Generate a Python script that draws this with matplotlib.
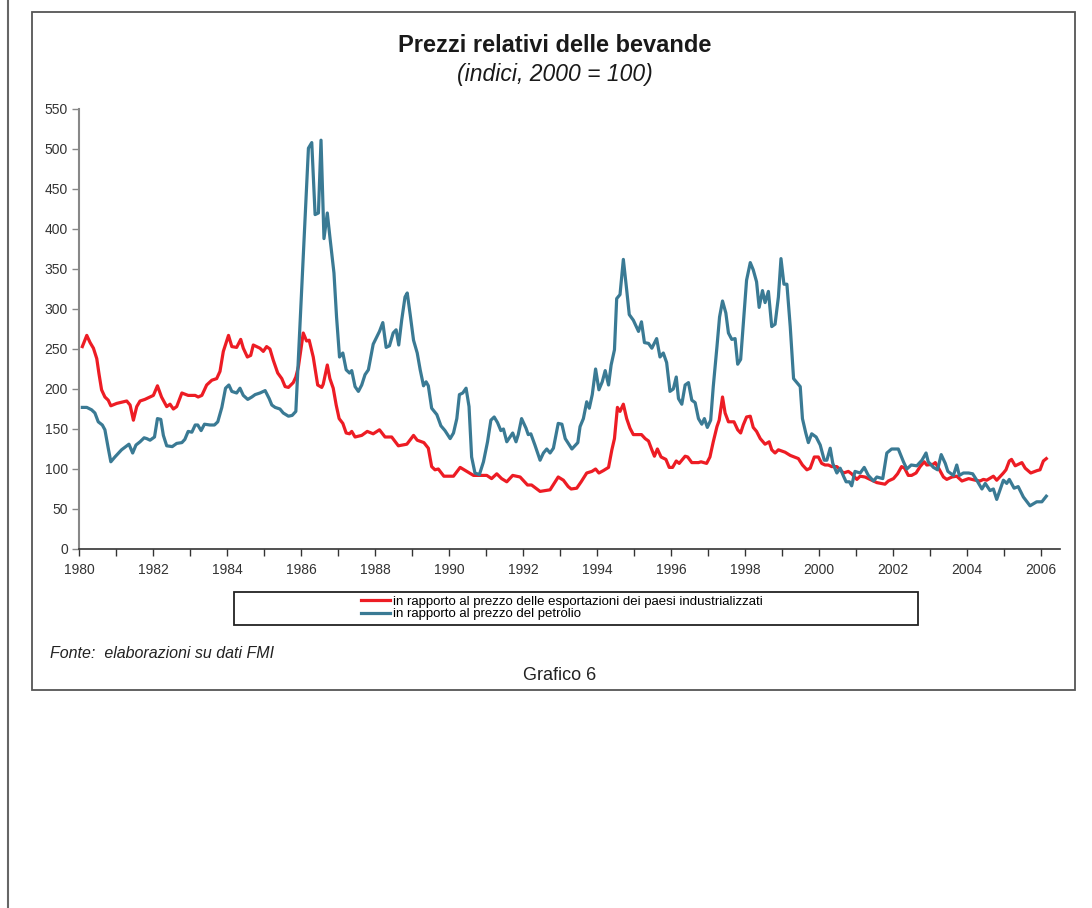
import matplotlib
matplotlib.use("Agg")
import matplotlib.pyplot as plt
from matplotlib.patches import Rectangle
from matplotlib.lines import Line2D

plt.rcParams["font.family"] = ["Liberation Sans", "DejaVu Sans"]

# monthly-ish readings (decimal year, index value)
exp_years = [1980.09, 1980.21, 1980.30, 1980.39, 1980.48, 1980.54, 1980.61, 1980.70, 1980.79, 1980.86,
             1981.02, 1981.29, 1981.38, 1981.47, 1981.56, 1981.65, 1981.78, 1981.92, 1982.01, 1982.12,
             1982.23, 1982.37, 1982.46, 1982.55, 1982.64, 1982.78, 1982.95, 1983.14, 1983.22, 1983.32,
             1983.45, 1983.59, 1983.72, 1983.81, 1983.90, 1984.04, 1984.13, 1984.26, 1984.37, 1984.44,
             1984.55, 1984.64, 1984.71, 1984.89, 1984.98, 1985.07, 1985.16, 1985.25, 1985.37, 1985.48,
             1985.57, 1985.66, 1985.79, 1985.86, 1985.93, 1986.06, 1986.15, 1986.22, 1986.33, 1986.45,
             1986.56, 1986.60, 1986.71, 1986.78, 1986.87, 1986.95, 1987.03, 1987.13, 1987.22, 1987.31,
             1987.37, 1987.46, 1987.64, 1987.79, 1987.95, 1988.12, 1988.27, 1988.45, 1988.63, 1988.86,
             1989.04, 1989.14, 1989.32, 1989.44, 1989.53, 1989.62, 1989.71, 1989.86, 1990.12, 1990.30,
             1990.48, 1990.66, 1991.02, 1991.15, 1991.29, 1991.42, 1991.56, 1991.72, 1991.92, 1992.12,
             1992.23, 1992.46, 1992.73, 1992.95, 1993.09, 1993.22, 1993.30, 1993.45, 1993.57, 1993.72,
             1993.86, 1993.96, 1994.05, 1994.17, 1994.31, 1994.40, 1994.47, 1994.55, 1994.62, 1994.71,
             1994.80, 1994.89, 1994.98, 1995.20, 1995.30, 1995.39, 1995.48, 1995.55, 1995.63, 1995.73,
             1995.86, 1995.95, 1996.04, 1996.14, 1996.22, 1996.38, 1996.45, 1996.56, 1996.65, 1996.74,
             1996.81, 1996.96, 1997.05, 1997.14, 1997.24, 1997.30, 1997.39, 1997.46, 1997.55, 1997.70,
             1997.80, 1997.88, 1997.95, 1998.04, 1998.14, 1998.22, 1998.31, 1998.41, 1998.54, 1998.65,
             1998.72, 1998.81, 1998.90, 1999.08, 1999.22, 1999.44, 1999.55, 1999.67, 1999.76, 1999.87,
             1999.98, 2000.07, 2000.16, 2000.25, 2000.34, 2000.48, 2000.66, 2000.79, 2000.88, 2001.02,
             2001.11, 2001.24, 2001.42, 2001.56, 2001.78, 2001.87, 2002.01, 2002.12, 2002.23, 2002.31,
             2002.41, 2002.50, 2002.62, 2002.73, 2002.84, 2002.91, 2003.09, 2003.14, 2003.23, 2003.36,
             2003.45, 2003.59, 2003.72, 2003.86, 2004.04, 2004.22, 2004.35, 2004.44, 2004.53, 2004.71,
             2004.80, 2004.98, 2005.05, 2005.14, 2005.20, 2005.30, 2005.48, 2005.57, 2005.72, 2005.89,
             2005.97, 2006.06, 2006.14]
exp_vals = [253, 267, 258, 251, 238, 219, 199, 190, 186, 179,
            182, 185, 180, 161, 178, 185, 187, 190, 192, 204,
            190, 178, 181, 175, 178, 195, 192, 192, 190, 192,
            205, 211, 213, 222, 247, 267, 253, 252, 262, 251,
            240, 242, 255, 251, 247, 253, 250, 236, 220, 213,
            203, 202, 208, 215, 228, 270, 260, 261, 240, 205,
            202, 206, 230, 213, 201, 180, 163, 157, 145, 144,
            147, 140, 142, 147, 144, 149, 140, 140, 129, 131,
            142, 136, 133, 126, 103, 99, 100, 91, 91, 102,
            97, 92, 92, 88, 94, 88, 84, 92, 90, 80,
            80, 72, 74, 90, 86, 78, 75, 76, 84, 95,
            97, 100, 95, 98, 102, 124, 138, 177, 172, 181,
            163, 151, 143, 143, 138, 135, 124, 116, 125, 115,
            112, 102, 102, 110, 107, 116, 115, 108, 108, 108,
            109, 107, 115, 134, 153, 161, 190, 170, 159, 159,
            149, 145, 155, 165, 166, 152, 147, 138, 131, 134,
            124, 120, 124, 121, 117, 113, 105, 99, 101, 115,
            115, 107, 105, 105, 103, 103, 95, 97, 94, 87,
            91, 90, 86, 83, 81, 85, 88, 94, 103, 101,
            92, 92, 95, 103, 109, 105, 106, 108, 101, 90,
            87, 90, 91, 85, 88, 86, 85, 87, 86, 91,
            86, 95, 99, 110, 112, 104, 108, 101, 95, 98,
            99, 110, 113]

oil_years = [1980.09, 1980.21, 1980.34, 1980.43, 1980.52, 1980.63, 1980.70, 1980.79, 1980.86, 1980.97,
             1981.15, 1981.35, 1981.45, 1981.54, 1981.65, 1981.76, 1981.83, 1981.92, 1982.04, 1982.12,
             1982.21, 1982.28, 1982.37, 1982.52, 1982.64, 1982.78, 1982.86, 1982.95, 1983.05, 1983.14,
             1983.21, 1983.30, 1983.39, 1983.54, 1983.66, 1983.75, 1983.86, 1983.96, 1984.05, 1984.13,
             1984.26, 1984.35, 1984.44, 1984.56, 1984.67, 1984.76, 1984.89, 1985.03, 1985.14, 1985.21,
             1985.30, 1985.43, 1985.52, 1985.66, 1985.76, 1985.86, 1986.20, 1986.29, 1986.38, 1986.47,
             1986.54, 1986.62, 1986.71, 1986.78, 1986.89, 1986.96, 1987.04, 1987.13, 1987.22, 1987.31,
             1987.37, 1987.46, 1987.55, 1987.64, 1987.73, 1987.82, 1987.95, 1988.12, 1988.21, 1988.30,
             1988.39, 1988.49, 1988.57, 1988.64, 1988.72, 1988.81, 1988.87, 1988.95, 1989.04, 1989.14,
             1989.22, 1989.31, 1989.38, 1989.44, 1989.53, 1989.67, 1989.78, 1989.89, 1990.03, 1990.12,
             1990.21, 1990.28, 1990.37, 1990.46, 1990.54, 1990.61, 1990.70, 1990.82, 1990.93, 1991.04,
             1991.13, 1991.22, 1991.31, 1991.40, 1991.47, 1991.56, 1991.72, 1991.81, 1991.87, 1991.96,
             1992.08, 1992.14, 1992.21, 1992.32, 1992.46, 1992.55, 1992.64, 1992.73, 1992.82, 1992.95,
             1993.05, 1993.14, 1993.32, 1993.48, 1993.54, 1993.63, 1993.72, 1993.79, 1993.87, 1993.96,
             1994.05, 1994.14, 1994.22, 1994.31, 1994.38, 1994.47, 1994.53, 1994.62, 1994.71, 1994.80,
             1994.87, 1994.98, 1995.12, 1995.20, 1995.28, 1995.39, 1995.48, 1995.61, 1995.70, 1995.79,
             1995.88, 1995.97, 1996.06, 1996.14, 1996.20, 1996.29, 1996.38, 1996.47, 1996.56, 1996.65,
             1996.74, 1996.83, 1996.90, 1996.98, 1997.07, 1997.14, 1997.24, 1997.31, 1997.39, 1997.48,
             1997.55, 1997.64, 1997.73, 1997.80, 1997.88, 1998.04, 1998.14, 1998.22, 1998.31, 1998.38,
             1998.47, 1998.54, 1998.63, 1998.72, 1998.81, 1998.90, 1998.97, 1999.05, 1999.13, 1999.22,
             1999.31, 1999.49, 1999.55, 1999.64, 1999.71, 1999.80, 1999.92, 2000.03, 2000.14, 2000.21,
             2000.30, 2000.37, 2000.48, 2000.57, 2000.66, 2000.73, 2000.82, 2000.88, 2000.97, 2001.11,
             2001.22, 2001.33, 2001.47, 2001.56, 2001.72, 2001.83, 2001.96, 2002.14, 2002.28, 2002.37,
             2002.49, 2002.64, 2002.78, 2002.89, 2002.95, 2003.09, 2003.20, 2003.30, 2003.41, 2003.48,
             2003.63, 2003.72, 2003.79, 2003.90, 2004.04, 2004.15, 2004.26, 2004.40, 2004.49, 2004.62,
             2004.71, 2004.80, 2004.89, 2004.98, 2005.07, 2005.14, 2005.27, 2005.38, 2005.52, 2005.70,
             2005.88, 2006.02, 2006.14]
oil_vals = [177, 177, 174, 170, 159, 155, 149, 126, 109, 115,
            124, 131, 120, 130, 134, 139, 138, 136, 140, 163,
            162, 142, 129, 128, 132, 133, 137, 147, 146, 155,
            155, 148, 156, 155, 155, 159, 177, 201, 205, 197,
            195, 201, 192, 187, 190, 193, 195, 198, 188, 180,
            177, 175, 170, 166, 167, 172, 501, 508, 418, 420,
            511, 388, 420, 390, 345, 290, 240, 245, 224, 220,
            223, 203, 197, 205, 218, 224, 256, 272, 283, 252,
            254, 270, 274, 255, 286, 315, 320, 293, 261, 245,
            224, 204, 209, 204, 176, 168, 154, 148, 138, 145,
            163, 193, 195, 201, 178, 115, 95, 93, 109, 134,
            161, 165, 158, 148, 150, 134, 145, 134, 143, 163,
            151, 143, 144, 130, 111, 120, 125, 120, 126, 157,
            156, 138, 125, 133, 153, 163, 184, 176, 193, 225,
            199, 209, 223, 205, 230, 249, 313, 318, 362, 324,
            293, 286, 272, 284, 258, 257, 251, 263, 240, 245,
            233, 197, 200, 215, 188, 181, 205, 208, 186, 183,
            163, 156, 163, 152, 161, 203, 253, 290, 310, 295,
            270, 262, 263, 231, 237, 336, 358, 349, 334, 302,
            323, 308, 322, 278, 281, 315, 363, 331, 331, 278,
            213, 203, 163, 145, 133, 144, 140, 130, 111, 111,
            126, 107, 95, 101, 91, 84, 84, 79, 97, 95,
            102, 92, 85, 90, 88, 120, 125, 125, 109, 100,
            105, 104, 111, 120, 109, 102, 99, 118, 107, 97,
            92, 105, 92, 95, 95, 94, 86, 75, 82, 73,
            75, 62, 74, 86, 82, 87, 76, 78, 65, 54,
            59, 59, 66]

exp_label = "in rapporto al prezzo delle esportazioni dei paesi industrializzati"
oil_label = "in rapporto al prezzo del petrolio"
red = "#ED1C24"
blue = "#3A7A94"

W, H = 1092, 908
fig = plt.figure(figsize=(W / 100, H / 100), dpi=100)

def fx(px):
    return px / W

def fy(py):
    return 1 - py / H

# page edge and chart frame
fig.add_artist(Line2D([fx(8), fx(8)], [0, 1], color="#666666", lw=1.5))
fig.add_artist(Rectangle((fx(32), fy(690)), fx(1075) - fx(32), fy(12) - fy(690),
                         fill=False, edgecolor="#555555", lw=1.3))

ax = fig.add_axes([fx(79), fy(549), fx(1060) - fx(79), fy(109) - fy(549)])
ax.plot(exp_years, exp_vals, color=red, lw=2.3, label=exp_label, solid_joinstyle="round")
ax.plot(oil_years, oil_vals, color=blue, lw=2.3, label=oil_label, solid_joinstyle="round")

ax.set_xlim(1980, 2006.51)
ax.set_ylim(0, 550)
ax.set_yticks(range(0, 551, 50))
ax.set_xticks(range(1980, 2007))
ax.set_xticklabels([str(y) if y % 2 == 0 else "" for y in range(1980, 2007)])

for s in ["top", "right"]:
    ax.spines[s].set_visible(False)
ax.spines["left"].set_color("#888888")
ax.spines["left"].set_linewidth(1.5)
ax.spines["bottom"].set_color("#333333")
ax.spines["bottom"].set_linewidth(1.2)
ax.tick_params(axis="y", length=5, width=1, colors="#888888", labelcolor="#333333",
               labelsize=10, pad=3)
ax.tick_params(axis="x", length=5, width=1, colors="#333333", labelcolor="#333333",
               labelsize=10, pad=5)

fig.text(fx(555), fy(46), "Prezzi relativi delle bevande", ha="center", va="center",
         fontsize=17, fontweight="bold", color="#1a1a1a")
fig.text(fx(555), fy(75), "(indici, 2000 = 100)", ha="center", va="center",
         fontsize=16.5, style="italic", color="#1a1a1a")

# legend box
fig.add_artist(Rectangle((fx(234), fy(625)), fx(918) - fx(234), fy(592) - fy(625),
                         fill=False, edgecolor="#222222", lw=1.3))
fig.legend(loc="center left", bbox_to_anchor=(fx(361), fy(608)), frameon=False,
           fontsize=9.5, handlelength=2.2, handletextpad=0.25, labelspacing=0.0,
           borderpad=0, borderaxespad=0)

fig.text(fx(50), fy(653), "Fonte:  elaborazioni su dati FMI", ha="left", va="center",
         fontsize=11.5, style="italic", color="#222222")
fig.text(fx(560), fy(675), "Grafico 6", ha="center", va="center", fontsize=13, color="#222222")

fig.savefig("out.png", dpi=100)
